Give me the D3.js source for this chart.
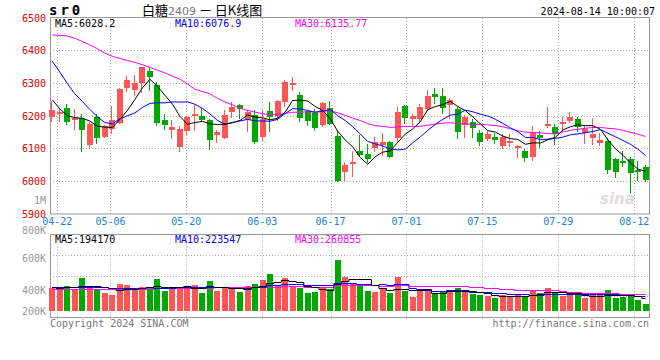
<!DOCTYPE html>
<html><head><meta charset="utf-8">
<script src="https://cdn.jsdelivr.net/npm/d3@7/dist/d3.min.js"></script>
<style>body{margin:0;background:#fff}svg{display:block}</style>
</head><body><svg id="c" width="660" height="360"></svg>
<script>
const dates = ["04-19","04-22","04-23","04-24","04-25","04-26","04-29","04-30","05-06","05-07","05-08","05-09","05-10","05-13","05-14","05-15","05-16","05-17","05-20","05-21","05-22","05-23","05-24","05-27","05-28","05-29","05-30","05-31","06-03","06-04","06-05","06-06","06-07","06-11","06-12","06-13","06-14","06-17","06-18","06-19","06-20","06-21","06-24","06-25","06-26","06-27","06-28","07-01","07-02","07-03","07-04","07-05","07-08","07-09","07-10","07-11","07-12","07-15","07-16","07-17","07-18","07-19","07-22","07-23","07-24","07-25","07-26","07-29","07-30","07-31","08-01","08-02","08-05","08-06","08-07","08-08","08-09","08-12","08-13","08-14"];
const openP = [6196,6205,6226,6190,6195,6110,6197,6137,6160,6180,6287,6280,6300,6337,6295,6188,6157,6104,6153,6203,6200,6188,6142,6134,6211,6234,6188,6203,6137,6216,6201,6244,6296,6264,6216,6209,6171,6225,6139,6029,6052,6094,6085,6102,6110,6120,6132,6231,6190,6190,6222,6267,6261,6234,6222,6171,6183,6147,6130,6137,6107,6117,6105,6092,6076,6142,6171,6165,6181,6186,6191,6148,6134,6117,6124,6069,6063,6069,6034,6043];
const highP = [6246,6225,6236,6220,6206,6183,6205,6172,6230,6286,6323,6327,6350,6348,6303,6205,6188,6168,6199,6234,6224,6190,6158,6219,6244,6237,6219,6219,6219,6244,6249,6310,6318,6275,6219,6221,6244,6245,6158,6059,6092,6142,6114,6137,6148,6124,6229,6234,6206,6236,6280,6285,6287,6256,6229,6203,6191,6158,6155,6148,6144,6144,6112,6100,6168,6153,6229,6175,6198,6212,6198,6168,6193,6148,6132,6071,6092,6076,6063,6051];
const lowP = [6186,6186,6175,6160,6092,6102,6117,6135,6148,6178,6277,6264,6272,6280,6173,6160,6134,6092,6145,6158,6186,6100,6120,6132,6196,6193,6155,6117,6127,6155,6188,6232,6280,6185,6173,6156,6170,6175,6000,6005,6015,6078,6059,6092,6082,6074,6120,6178,6173,6185,6219,6241,6208,6195,6134,6137,6137,6112,6127,6117,6102,6107,6073,6063,6066,6104,6165,6114,6155,6183,6155,6117,6114,6110,6026,6012,6046,5968,6005,6000];
const closeP = [6218,6212,6183,6194,6158,6176,6132,6170,6188,6283,6310,6300,6349,6320,6178,6171,6165,6161,6197,6206,6188,6128,6150,6203,6229,6222,6211,6119,6191,6198,6246,6303,6300,6195,6185,6164,6241,6176,6002,6051,6058,6080,6069,6120,6120,6076,6211,6195,6200,6229,6261,6259,6226,6249,6150,6198,6163,6120,6145,6128,6137,6124,6107,6071,6150,6134,6175,6145,6183,6198,6165,6161,6145,6127,6036,6029,6062,6026,6033,6005];
const ma5 = [6250,6222,6201,6195,6193.0,6184.6,6168.6,6166.0,6164.8,6189.8,6216.6,6250.2,6286.0,6312.4,6291.4,6263.6,6236.6,6199.0,6174.4,6180.0,6183.4,6176.0,6173.8,6175.0,6179.6,6186.4,6203.0,6196.8,6194.4,6188.2,6193.0,6211.4,6247.6,6248.4,6245.8,6229.4,6217.0,6192.2,6153.6,6126.8,6105.6,6073.4,6052.0,6075.6,6089.4,6093.0,6119.2,6144.4,6160.4,6182.2,6219.2,6228.8,6235.0,6244.8,6229.0,6216.4,6197.2,6176.0,6155.2,6150.8,6138.6,6130.8,6128.2,6113.4,6117.8,6117.2,6127.4,6135.0,6157.4,6167.0,6173.2,6170.4,6170.4,6159.2,6126.8,6099.6,6079.8,6056.0,6037.2,6031.0];
const ma10 = [6368,6335,6300,6268,6245,6220,6198,6180,6176,6191.4,6200.6,6209.4,6226.0,6238.6,6240.6,6240.1,6243.4,6242.5,6243.4,6235.7,6223.5,6206.3,6186.4,6174.7,6179.8,6184.9,6189.5,6185.3,6184.7,6183.9,6189.7,6207.2,6222.2,6221.4,6217.0,6211.2,6214.2,6219.9,6201.0,6186.3,6167.5,6145.2,6122.1,6114.6,6108.1,6099.3,6096.3,6098.2,6118.0,6135.8,6156.1,6174.0,6189.7,6202.6,6205.6,6217.8,6213.0,6205.5,6200.0,6189.9,6177.5,6164.0,6152.1,6134.3,6134.3,6127.9,6129.1,6131.6,6135.4,6142.4,6145.2,6148.9,6152.7,6158.3,6146.9,6136.4,6125.1,6113.2,6098.2,6078.9];
const ma30 = [6448,6447,6445,6438,6428,6418,6406,6392,6383,6376,6370,6364,6357,6349,6340,6332,6322,6313,6298,6282,6275,6268,6254,6243,6234,6224,6217,6212,6207,6203.7,6204.6,6207.6,6211.5,6211.6,6212.5,6212.1,6215.7,6215.9,6209.7,6202.0,6193.6,6186.2,6176.9,6170.2,6168.3,6165.1,6166.7,6167.8,6167.9,6168.7,6171.1,6175.5,6178.0,6179.5,6176.9,6176.1,6174.5,6174.5,6173.0,6170.7,6167.0,6161.1,6154.6,6150.5,6149.3,6148.3,6146.1,6145.1,6151.1,6156.0,6159.6,6162.3,6164.8,6165.1,6162.3,6160.7,6155.7,6150.1,6144.5,6137.1];
const volumeK = [361,336,388,336,516,388,326,284,248,419,403,326,377,361,496,310,352,377,377,403,284,465,310,377,361,299,388,419,481,574,392,516,388,361,284,299,377,341,791,522,429,419,310,299,336,274,522,310,222,315,315,274,299,326,361,299,264,248,233,206,248,222,248,233,326,284,361,274,233,248,248,206,248,248,326,206,222,264,171,109];
const volMa5 = [370,360,365,375,387,393,391,370,352,333,336,336,355,377,393,374,379,379,382,364,359,381,368,368,359,362,347,369,390,432,451,476,470,446,388,370,342,332,418,466,492,500,494,396,359,328,348,348,333,329,337,287,285,306,315,312,310,300,281,250,240,231,231,231,255,263,290,296,296,280,273,242,237,240,255,247,250,253,238,194];
const volMa10 = [368,366,368,370,372,374,372,368,362,360,364,363,362,365,363,355,358,367,380,378,366,380,374,375,362,361,364,368,379,396,407,412,420,418,410,410,409,401,432,427,431,421,413,407,412,410,424,421,364,344,332,318,317,319,322,324,299,292,293,283,276,271,266,256,253,251,261,264,264,268,268,266,266,268,268,260,246,245,239,225];
const volMa30 = [335,335,336,337,338,338,339,340,340,342,343,344,346,348,350,352,354,356,358,360,362,364,366,368,370,372,373,375,377,378,379,385,385,386,378,375,377,379,397,400,401,404,402,400,395,394,399,397,392,389,390,384,383,381,381,381,377,372,363,351,346,336,332,328,329,328,328,326,307,298,292,285,283,281,281,278,268,267,265,258];
const priceTicks = [6500,6400,6300,6200,6100,6000,5900];
const dateTicks = ["04-22","05-06","05-20","06-03","06-17","07-01","07-15","07-29","08-12"];
const volTickValues = [800,600,400,200];
const volTickLabels = ["800K","600K","400K","200K"];
const priceLegend = ["MA5:6028.2","MA10:6076.9","MA30:6135.77"];
const volLegend = ["MA5:194170","MA10:223547","MA30:260855"];

const UP = "#ff5555", DOWN = "#00a800";
const MONO = "'DejaVu Sans Mono', monospace";
const svg = d3.select("#c");
const n = closeP.length;
const L = 50, R = 650;

const x = d3.scaleBand().domain(d3.range(n)).range([48.5, 649.3]);
const xc = i => x(i) + x.bandwidth() / 2;
const y = d3.scaleLinear().domain([5900, 6500]).range([214, 18]);
const yv = d3.scaleLinear().domain([0, 1190]).range([311, 234.3]);
const gx = d3.scaleLinear().domain([1, 67]).range([57.3, 558.3]);
const yvLab = d3.scaleLinear().domain([200, 400, 600, 800]).range([311, 290.5, 258, 230]);
const volTop = 234.5, volBot = 317.5;
const volRows = d3.scaleLinear().domain([0, 4]).range([volTop, volBot]);

const grid = svg.append("g").attr("stroke", "#aaa").attr("stroke-dasharray", "1,2").attr("stroke-width", 1);
// price horizontal grid
priceTicks.slice(1, -1).forEach(p => {
  const yy = Math.floor(y(p)) + 0.5;
  grid.append("line").attr("x1", L).attr("x2", R).attr("y1", yy).attr("y2", yy);
});
// vertical date grid
dateTicks.forEach(d => {
  const xx = Math.round(gx(dates.indexOf(d))) + 0.5;
  grid.append("line").attr("x1", xx).attr("x2", xx).attr("y1", 18).attr("y2", 214);
  grid.append("line").attr("x1", xx).attr("x2", xx).attr("y1", volTop).attr("y2", volBot + 3);
});
// volume horizontal grid
[1, 2, 3].forEach(k => {
  const yy = Math.floor(volRows(k)) + 0.5;
  grid.append("line").attr("x1", L).attr("x2", R).attr("y1", yy).attr("y2", yy);
});

// frames
svg.append("rect").attr("x", 50.5).attr("y", 17.5).attr("width", 599).attr("height", 196.5)
  .attr("fill", "none").attr("stroke", "#999");
svg.append("rect").attr("x", 50.5).attr("y", volTop).attr("width", 599).attr("height", volBot - volTop)
  .attr("fill", "none").attr("stroke", "#999");

// watermark
svg.append("text").attr("x", 600).attr("y", 204).attr("font-family", "'DejaVu Sans'")
  .attr("font-size", 15).attr("font-weight", "bold").attr("font-style", "italic")
  .attr("fill", "#e2dada").text("sina");

// candles
const cg = svg.append("g").attr("shape-rendering", "crispEdges");
d3.range(n).forEach(i => {
  const o = openP[i], c = closeP[i];
  const col = c >= o ? UP : DOWN;
  const bx = Math.round(xc(i) - 3);
  const wx = bx + 2.5;
  cg.append("line").attr("x1", wx).attr("x2", wx)
    .attr("y1", Math.round(y(highP[i]))).attr("y2", Math.round(y(lowP[i])) + 1)
    .attr("stroke", col);
  const t = Math.round(y(Math.max(o, c)));
  const b = Math.round(y(Math.min(o, c)));
  cg.append("rect").attr("x", bx).attr("y", t).attr("width", 6).attr("height", Math.max(2, b - t))
    .attr("fill", col);
  // volume
  const vt = Math.round(yv(volumeK[i]));
  cg.append("rect").attr("x", bx).attr("y", vt).attr("width", 6).attr("height", Math.round(yv(0)) - vt)
    .attr("fill", col);
});

// MA lines
const lineP = d3.line().x((d, i) => xc(i)).y(d => y(d));
[[ma30, "#ff00ff"], [ma10, "#0000ff"], [ma5, "#000"]].forEach(([arr, col]) => {
  svg.append("path").attr("d", lineP(arr)).attr("fill", "none").attr("stroke", col).attr("stroke-width", 1);
});
const lineV = d3.line().x((d, i) => xc(i)).y(d => Math.round(yv(d)) + 0.5).curve(d3.curveStep);
[[volMa30, "#ff00ff"], [volMa10, "#0000ff"], [volMa5, "#000"]].forEach(([arr, col]) => {
  svg.append("path").attr("d", lineV(arr)).attr("fill", "none").attr("stroke", col).attr("stroke-width", 1);
});

// price axis labels
priceTicks.forEach(p => {
  svg.append("text").attr("x", 46).attr("y", y(p) + 3.5).attr("text-anchor", "end")
    .attr("font-family", MONO).attr("font-size", 10).attr("fill", "#e00000").text(p);
});
svg.append("text").attr("x", 46).attr("y", 203.5).attr("text-anchor", "end")
  .attr("font-family", MONO).attr("font-size", 10).attr("fill", "#999").text("1M");
// volume axis labels
volTickValues.forEach((v, k) => {
  svg.append("text").attr("x", 46).attr("y", yvLab(v) + 3.5).attr("text-anchor", "end")
    .attr("font-family", MONO).attr("font-size", 10).attr("fill", "#999").text(volTickLabels[k]);
});
// date labels
dateTicks.forEach(d => {
  svg.append("text").attr("x", gx(dates.indexOf(d))).attr("y", 225).attr("text-anchor", "middle")
    .attr("font-family", MONO).attr("font-size", 10).attr("fill", "#1a7fd4").text(d);
});

// legends
const legCols = ["#000", "#0000ff", "#ff00ff"];
const legX = [55, 175, 295];
priceLegend.forEach((t, k) => {
  svg.append("text").attr("x", legX[k]).attr("y", 27).attr("font-family", MONO).attr("font-size", 10)
    .attr("fill", legCols[k]).text(t);
});
volLegend.forEach((t, k) => {
  svg.append("text").attr("x", legX[k]).attr("y", 242.5).attr("font-family", MONO).attr("font-size", 10)
    .attr("fill", legCols[k]).text(t);
});

// header
svg.append("text").attr("x", 49).attr("y", 15).attr("font-family", MONO).attr("font-size", 14)
  .attr("font-weight", "bold").attr("letter-spacing", 3).attr("fill", "#000").text("sr0");
const title = svg.append("text").attr("x", 142).attr("y", 15).attr("font-family", "'Noto Sans CJK SC'")
  .attr("font-size", 13).attr("fill", "#000");
title.append("tspan").text("白糖");
title.append("tspan").attr("font-family", "'DejaVu Sans'").attr("font-size", 11).attr("fill", "#777").text("2409");
title.append("tspan").text(" － 日K线图");
svg.append("text").attr("x", 655).attr("y", 15).attr("text-anchor", "end").attr("font-family", MONO)
  .attr("font-size", 10).attr("fill", "#000").text("2024-08-14 10:00:07");

// footer
svg.append("text").attr("x", 50).attr("y", 327).attr("font-family", MONO).attr("font-size", 10)
  .attr("fill", "#777").text("Copyright 2024 SINA.COM");
svg.append("text").attr("x", 649).attr("y", 327).attr("text-anchor", "end").attr("font-family", MONO)
  .attr("font-size", 10).attr("fill", "#777").text("http://finance.sina.com.cn");
</script></body></html>
